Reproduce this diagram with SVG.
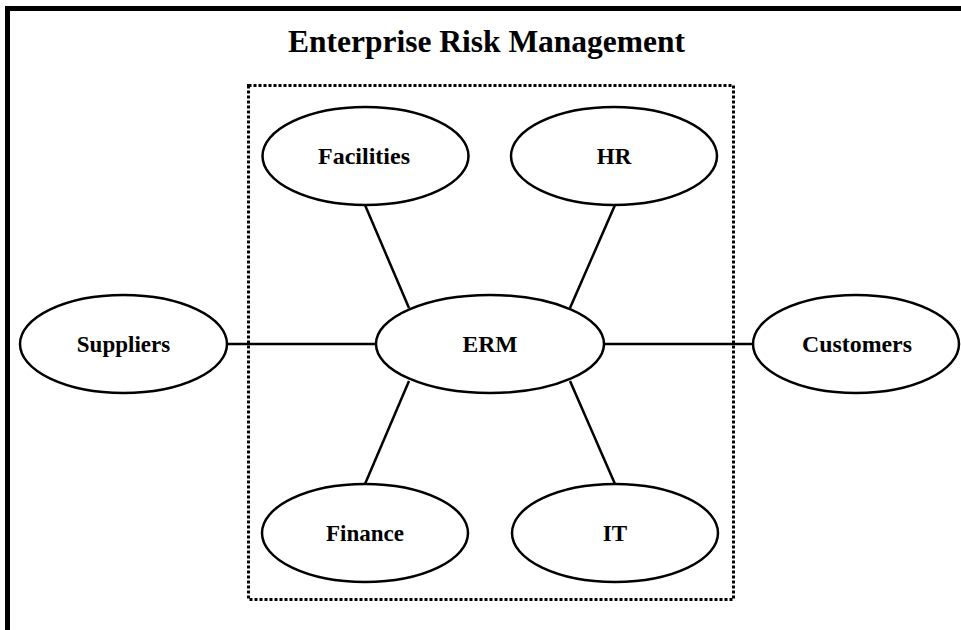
<svg xmlns="http://www.w3.org/2000/svg" width="961" height="630" viewBox="0 0 961 630">
<style>
.node ellipse{fill:#fff;stroke:#000;stroke-width:2.5}
.lbl{font-family:"Liberation Serif","Times New Roman",serif;font-weight:bold;font-size:23px;fill:#000;text-anchor:middle}
.conn line{stroke:#000;stroke-width:2.5}
</style>
<rect width="961" height="630" fill="#fff"/>
<g id="frame">
<path d="M7.5 630 V8.5 H961" fill="none" stroke="#000" stroke-width="5"/>
</g>
<text x="486.5" y="52" font-family="'Liberation Serif','Times New Roman',serif" font-weight="bold" font-size="31" text-anchor="middle" textLength="397" lengthAdjust="spacingAndGlyphs">Enterprise Risk Management</text>
<g id="boundary">
<rect x="248.5" y="85.5" width="485" height="514" fill="none" stroke="#000" stroke-width="3" stroke-dasharray="3 2"/>
</g>
<g id="connectors" class="conn">
<line x1="365" y1="205" x2="409" y2="308"/>
<line x1="615" y1="205" x2="570" y2="308"/>
<line x1="365" y1="484" x2="409" y2="381"/>
<line x1="615" y1="484" x2="570" y2="381"/>
<line x1="227" y1="344" x2="376" y2="344"/>
<line x1="604" y1="344" x2="753" y2="344"/>
</g>
<g id="erm" class="node"><ellipse cx="490" cy="344" rx="114" ry="49"/><text class="lbl" x="490" y="352" textLength="55" lengthAdjust="spacingAndGlyphs">ERM</text></g>
<g id="facilities" class="node"><ellipse cx="365.5" cy="156" rx="103" ry="49"/><text class="lbl" x="364" y="164" textLength="92" lengthAdjust="spacingAndGlyphs">Facilities</text></g>
<g id="hr" class="node"><ellipse cx="614" cy="156" rx="103" ry="49"/><text class="lbl" x="614" y="164">HR</text></g>
<g id="finance" class="node"><ellipse cx="365" cy="533" rx="103" ry="49"/><text class="lbl" x="365" y="541">Finance</text></g>
<g id="it" class="node"><ellipse cx="615" cy="533" rx="103" ry="49"/><text class="lbl" x="615" y="541">IT</text></g>
<g id="suppliers" class="node"><ellipse cx="123.5" cy="344" rx="103.5" ry="49"/><text class="lbl" x="123.5" y="352">Suppliers</text></g>
<g id="customers" class="node"><ellipse cx="856" cy="344" rx="103" ry="49"/><text class="lbl" x="857" y="352" textLength="110" lengthAdjust="spacingAndGlyphs">Customers</text></g>
</svg>
